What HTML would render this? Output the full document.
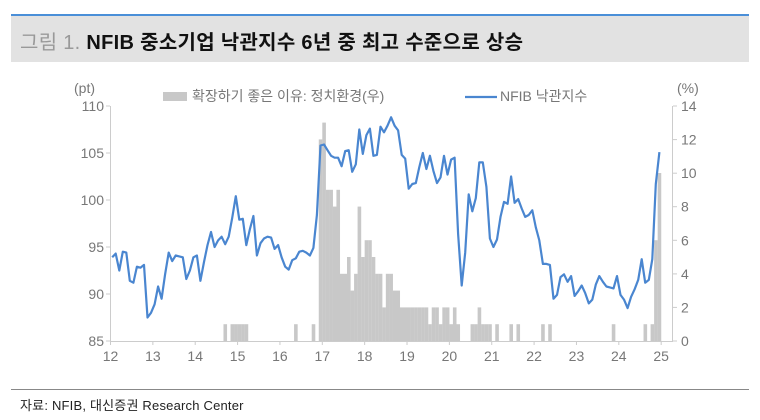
<!DOCTYPE html>
<html><head><meta charset="utf-8">
<style>
html,body{margin:0;padding:0;background:#fff;}
body{width:760px;height:420px;position:relative;overflow:hidden;font-family:"Liberation Sans","Noto Sans CJK KR",sans-serif;}
.top{position:absolute;left:11px;top:14px;width:738px;height:2px;background:#4a8fd8;}
.band{position:absolute;left:11px;top:16px;width:738px;height:46px;background:#e2e2e2;}
.title{position:absolute;left:20px;top:26px;font-size:20px;font-weight:bold;color:#111;letter-spacing:0.3px;font-family:"Liberation Sans","Noto Sans CJK KR",sans-serif;}
.title span{color:#999;font-weight:normal;}
.foot{position:absolute;left:11px;top:389px;width:738px;height:1px;background:#888;}
.src{position:absolute;left:20px;top:395px;font-size:13px;color:#222;letter-spacing:0.2px;}
svg{position:absolute;left:0;top:0;}
svg text{font-family:"Liberation Sans","Noto Sans CJK KR",sans-serif;fill:#777;font-size:14px;}
</style></head><body>
<div class="top"></div><div class="band"></div>
<div class="title"><span>그림 1.</span> NFIB 중소기업 낙관지수 6년 중 최고 수준으로 상승</div>
<svg id="c" width="760" height="420" viewBox="0 0 760 420">
<g id="bars" fill="#c8c8c8"></g>
<line x1="110.5" y1="106" x2="110.5" y2="341" stroke="#ccc"/>
<line x1="672.5" y1="106" x2="672.5" y2="341" stroke="#ccc"/>
<line x1="110" y1="341.5" x2="673" y2="341.5" stroke="#ccc"/>
<g id="ticks" stroke="#ccc"></g>
<path id="ln" fill="none" stroke="#4a86d0" stroke-width="2.2" stroke-linejoin="round"/>
<g id="labs"></g>
<text x="74" y="93" font-size="13">(pt)</text>
<text x="677" y="93" font-size="13">(%)</text>
<rect x="163" y="92" width="24" height="9" fill="#c8c8c8"/>
<text x="192" y="101" font-size="14">확장하기 좋은 이유: 정치환경(우)</text>
<line x1="465" y1="97" x2="497" y2="97" stroke="#4a86d0" stroke-width="2.2"/>
<text x="500" y="101" font-size="14">NFIB 낙관지수</text>
</svg>
<div class="foot"></div>
<div class="src">자료: NFIB, 대신증권 Research Center</div>
<script>
var v=[93.9,94.3,92.5,94.5,94.4,91.4,91.2,92.9,92.8,93.1,87.5,88.0,
88.9,90.8,89.5,92.1,94.4,93.5,94.1,94.0,93.9,91.6,92.5,93.9,
94.1,91.4,93.4,95.2,96.6,95.0,95.7,96.1,95.3,96.1,98.1,100.4,
97.9,98.0,95.2,96.9,98.3,94.1,95.4,95.9,96.1,96.0,94.8,95.2,
93.9,92.9,92.6,93.6,93.8,94.5,94.6,94.4,94.1,94.9,98.4,105.8,
105.9,105.3,104.7,104.5,104.5,103.6,105.2,105.3,103.0,103.8,107.5,104.9,
106.9,107.6,104.7,104.8,107.8,107.2,107.9,108.8,107.9,107.4,104.8,104.4,
101.2,101.7,101.8,103.5,105.0,103.3,104.7,103.1,101.8,102.4,104.7,102.7,
104.3,104.5,96.4,90.9,94.4,100.6,98.8,100.2,104.0,104.0,101.4,95.9,
95.0,95.8,98.2,99.8,99.6,102.5,99.7,100.1,99.1,98.2,98.4,98.9,
97.1,95.7,93.2,93.2,93.1,89.5,89.9,91.8,92.1,91.3,91.9,89.8,
90.3,90.9,90.1,89.0,89.4,91.0,91.9,91.3,90.8,90.7,90.6,91.9,
89.9,89.4,88.5,89.7,90.5,91.5,93.7,91.2,91.5,93.7,101.7,105.1];
var X=function(i){return 110.5+i*3.53+1.7;};
var d="";for(var i=0;i<v.length;i++){d+=(i?"L":"M")+X(i).toFixed(1)+","+(106+(110-v[i])*9.4).toFixed(1);}
document.getElementById("ln").setAttribute("d",d);
var b={32:1,34:1,35:1,36:1,37:1,38:1,52:1,57:1,59:12,60:13,61:9,62:9,63:8,64:9,65:4,66:4,67:5,68:3,69:4,70:8,71:5,72:6,73:6,74:5,75:4,76:4,77:2,78:4,79:4,80:3,81:3,
82:2,83:2,84:2,85:2,86:2,87:2,88:2,89:2,90:1,91:2,92:2,93:1,94:2,95:2,96:1,97:2,98:1,102:1,103:1,104:2,105:1,106:1,107:1,109:1,113:1,115:1,122:1,124:1,142:1,151:1,153:1,154:6,155:10};
var s="";for(var k in b){var x=110.5+k*3.53,h=b[k]*16.8;s+='<rect x="'+x.toFixed(2)+'" y="'+(341-h).toFixed(1)+'" width="3.6" height="'+h.toFixed(1)+'"/>';}
document.getElementById("bars").innerHTML=s;
var t="",l="";
for(var j=0;j<6;j++){var y=106+j*47;t+='<line x1="106" y1="'+y+'" x2="110" y2="'+y+'"/>';l+='<text x="104" y="'+(y+5)+'" text-anchor="end">'+(110-5*j)+'</text>';}
for(var j=0;j<8;j++){var y=341-j*33.57;t+='<line x1="673" y1="'+y.toFixed(1)+'" x2="677" y2="'+y.toFixed(1)+'"/>';l+='<text x="681" y="'+(y+5).toFixed(1)+'">'+(2*j)+'</text>';}
for(var j=0;j<14;j++){var x=110.5+j*12*3.53;t+='<line x1="'+x+'" y1="341" x2="'+x+'" y2="345"/>';l+='<text x="'+x+'" y="361" text-anchor="middle">'+(12+j)+'</text>';}
document.getElementById("ticks").innerHTML=t;document.getElementById("labs").innerHTML=l;
</script>
</body></html>
